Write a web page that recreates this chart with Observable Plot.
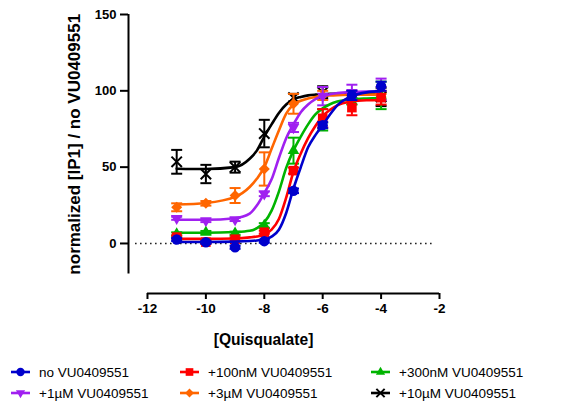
<!DOCTYPE html>
<html>
<head>
<meta charset="utf-8">
<script src="https://cdn.jsdelivr.net/npm/d3@7"></script>
<script src="https://cdn.jsdelivr.net/npm/@observablehq/plot@0.6"></script>
<style>
  html, body { margin: 0; padding: 0; background: #fff; }
  #wrap { position: relative; width: 580px; height: 405px; font-family: "Liberation Sans", Arial, sans-serif; }
  .leg { position: absolute; display: flex; align-items: center; font-size: 13.5px; color: #000; white-space: nowrap; height: 16px; }
  .leg svg { margin-right: 9px; }
</style>
</head>
<body>
<div id="wrap"></div>
<script>
// ---------- data ----------
const seriesNames = ["no VU0409551", "+100nM VU0409551", "+300nM VU0409551", "+1µM VU0409551", "+3µM VU0409551", "+10µM VU0409551"];
const seriesColors = ["#0000CC", "#FF0000", "#00B400", "#A020F0", "#FF6600", "#000000"];

// log [Quisqualate] (M)
const logConc = [-11, -10, -9, -8, -7, -6, -5, -4];

// mean responses
const noVU    = [2.6, 0.8, -2.5, 1.5, 34.5, 77.5, 97, 103];
const vu100nM = [4.2, 0.9, 2.8, 7.4, 47.7, 82, 89, 95.5];
const vu300nM = [6.3, 7.2, 6.7, 11.8, 60.8, 81, 93, 97];
const vu1uM   = [16.5, 15, 15.7, 32.5, 76, 96.5, 99, 101];
const vu3uM   = [23.7, 26.3, 31.4, 48.8, 91.5, 97, 96, 96];
const vu10uM  = [53.5, 45.5, 50, 72, 95.5, 99, 97, 96];

// SEM
const noVU_sem    = [1, 1, 1, 1, 1.5, 2, 3, 3];
const vu100nM_sem = [1, 1, 1, 1, 2, 6, 5, 4.5];
const vu300nM_sem = [1, 1, 1, 1.5, 8.5, 7, 2, 9];
const vu1uM_sem   = [1, 1, 1, 1.5, 3, 6, 5, 7];
const vu3uM_sem   = [2.6, 1.5, 4.9, 10.9, 6.5, 3, 2, 2];
const vu10uM_sem  = [7.8, 6, 3.6, 9, 2.5, 4, 2, 6];

// fitted curves, values
const fitX = [-11, -10, -9, -8.5, -8.25, -8, -7.75, -7.5, -7.25, -7, -6.75, -6.5, -6.25, -6, -5.75, -5.5, -5, -4.5, -4];
const noVU_fit    = [1, 1, 1.2, 1.6, 2, 2.6, 4.5, 9, 20, 36, 50, 63, 71, 77.5, 84.5, 90.5, 96.5, 99, 99.8];
const vu100nM_fit = [3, 3, 3.3, 4, 4.6, 5.8, 9, 16, 30, 47, 59, 69, 77, 83.5, 87.5, 90.5, 93, 93.8, 94];
const vu300nM_fit = [7, 7, 7.5, 8.3, 10, 13.8, 21.5, 34, 49.5, 61, 70, 78, 84.5, 88.5, 91.2, 93, 94.5, 95, 95.2];
const vu1uM_fit   = [15.5, 15.5, 16.5, 19.5, 25, 33, 42, 56, 69, 78, 86, 91, 94.5, 96.5, 97.8, 98.5, 99.2, 99.5, 99.6];
const vu3uM_fit   = [25.5, 26.5, 30.5, 37, 42.5, 50, 62, 74, 85, 91, 93.5, 95, 96, 96.7, 97, 97.2, 97.4, 97.5, 97.5];
const vu10uM_fit  = [49, 48.8, 50, 55.5, 61, 70, 78, 85.5, 91, 94.5, 96, 97, 97.5, 97.8, 98, 98.2, 98.4, 98.5, 98.5];

const xTicks = [-12, -10, -8, -6, -4, -2];
const yTicks = [0, 50, 100, 150];
const xLabel = "[Quisqualate]";
const yLabel = "normalized [IP1] / no VU0409551";

// ---------- assemble ----------
const means = [noVU, vu100nM, vu300nM, vu1uM, vu3uM, vu10uM];
const sems  = [noVU_sem, vu100nM_sem, vu300nM_sem, vu1uM_sem, vu3uM_sem, vu10uM_sem];
const fits  = [noVU_fit, vu100nM_fit, vu300nM_fit, vu1uM_fit, vu3uM_fit, vu10uM_fit];

// marker styles
const markers = [
  {symbol: "circle", r: 5.2, rotate: 0, filled: true},
  {symbol: "square", r: 5.4, rotate: 0, filled: true},
  {symbol: "triangle", r: 4.3, rotate: 0, filled: true},
  {symbol: "triangle", r: 4.3, rotate: 180, filled: true},
  {symbol: "square", r: 4.4, rotate: 45, filled: true},
  {symbol: "times", r: 4.8, rotate: 0, filled: false}
];

const capSymbol = {
  draw(ctx, size) {
    const w = Math.sqrt(size / Math.PI);
    ctx.moveTo(-w, 0);
    ctx.lineTo(w, 0);
  }
};

const xDomain = [-12.65, -2];
const yDomain = [-20, 150];
const W = 580, H = 350;

const marks = [];
marks.push(Plot.ruleY([0], {insetLeft: 7, insetRight: 4, stroke: "#222", strokeWidth: 1.6, strokeDasharray: "1.6,3.4"}));

for (let s = seriesNames.length - 1; s >= 0; s--) {
  const color = seriesColors[s];
  const pts = logConc.map((x, i) => ({x, y: means[s][i], lo: means[s][i] - sems[s][i], hi: means[s][i] + sems[s][i]}));
  const fit = fitX.map((x, i) => ({x, y: fits[s][i]}));
  const m = markers[s];
  marks.push(Plot.line(fit, {x: "x", y: "y", stroke: color, strokeWidth: 2.6, curve: "monotone-x"}));
  marks.push(Plot.ruleX(pts, {x: "x", y1: "lo", y2: "hi", stroke: color, strokeWidth: 2}));
  marks.push(Plot.dot(pts, {x: "x", y: "hi", symbol: capSymbol, r: 5.5, fill: "none", stroke: color, strokeWidth: 2}));
  marks.push(Plot.dot(pts, {x: "x", y: "lo", symbol: capSymbol, r: 5.5, fill: "none", stroke: color, strokeWidth: 2}));
  if (m.filled) {
    marks.push(Plot.dot(pts, {x: "x", y: "y", symbol: m.symbol, r: m.r, rotate: m.rotate, fill: color, stroke: "none"}));
  } else {
    marks.push(Plot.dot(pts, {x: "x", y: "y", symbol: m.symbol, r: m.r, fill: "none", stroke: color, strokeWidth: 2}));
  }
}

// axes
marks.push(Plot.ruleX([xDomain[0]], {y1: yDomain[0], y2: yDomain[1], stroke: "#000", strokeWidth: 2}));
marks.push(Plot.axisY(yTicks, {anchor: "left", tickSize: 8, tickPadding: 4, strokeWidth: 2, fontSize: 13, fontWeight: "bold", label: null}));
marks.push(Plot.ruleY([yDomain[0]], {x1: xTicks[0], x2: xTicks[xTicks.length - 1], dy: 19.5, stroke: "#000", strokeWidth: 2}));
marks.push(Plot.axisX(xTicks, {anchor: "bottom", tickSize: 6, tickPadding: 4, dy: 19.5, strokeWidth: 2, fontSize: 13.5, fontWeight: "bold", label: null, tickFormat: d => (d < 0 ? "-" + Math.abs(d) : String(d))}));
marks.push(Plot.text([yLabel], {frameAnchor: "left", textAnchor: "middle", rotate: -90, dx: -54, fontSize: 17, fontWeight: "bold", fill: "#000", lineAnchor: "middle"}));
marks.push(Plot.text([xLabel], {frameAnchor: "bottom", textAnchor: "middle", dx: -20.5, dy: 65.5, fontSize: 15.6, fontWeight: "bold", fill: "#000", lineAnchor: "middle"}));

const chart = Plot.plot({
  width: W,
  height: H,
  marginLeft: 128,
  marginRight: 141,
  marginTop: 14,
  marginBottom: 76.5,
  style: {fontFamily: '"Liberation Sans", Arial, sans-serif', background: "#fff", color: "#000", overflow: "visible"},
  x: {type: "linear", domain: xDomain},
  y: {type: "linear", domain: yDomain},
  marks
});

const wrap = document.getElementById("wrap");
wrap.appendChild(chart);

// ---------- legend ----------
const legendCols = [11, 180, 371];
const legendRows = [372, 393];
seriesNames.forEach((name, i) => {
  const col = i % 3, row = Math.floor(i / 3);
  const m = markers[i];
  const color = seriesColors[i];
  const typeMap = {circle: d3.symbolCircle, square: d3.symbolSquare, triangle: d3.symbolTriangle, times: d3.symbolTimes};
  const size = Math.PI * (m.r * 0.8) ** 2;
  const path = d3.symbol(typeMap[m.symbol], size)();
  const item = document.createElement("div");
  item.className = "leg";
  item.style.left = legendCols[col] + "px";
  item.style.top = (legendRows[row] - 8) + "px";
  const symAttrs = m.filled ? `fill="${color}" stroke="none"` : `fill="none" stroke="${color}" stroke-width="2"`;
  item.innerHTML = `<svg width="19" height="16" viewBox="0 0 19 16">
      <line x1="0" y1="8" x2="19" y2="8" stroke="${color}" stroke-width="2.6"/>
      <path d="${path}" transform="translate(9.5,8) rotate(${m.rotate})" ${symAttrs}/>
    </svg><span>${name}</span>`;
  wrap.appendChild(item);
});
</script>
</body>
</html>
